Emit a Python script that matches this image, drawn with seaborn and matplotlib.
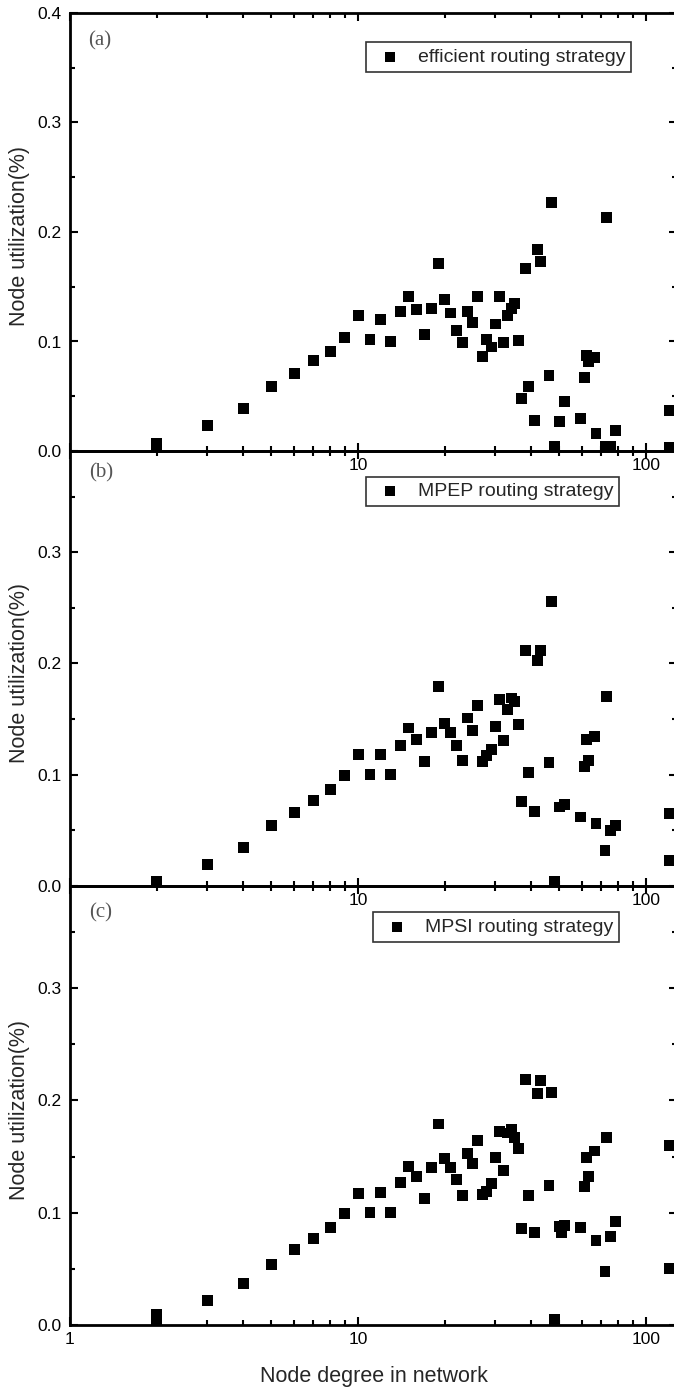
import numpy as np
import pandas as pd
import matplotlib
matplotlib.use("Agg")
import matplotlib.pyplot as plt
from matplotlib.ticker import FixedLocator, FixedFormatter, MultipleLocator
import seaborn as sns

# node degree (shared by the three strategies) and utilization per strategy
degree = [2, 2, 3, 4, 5, 6, 7, 8, 9, 10, 11, 12, 13, 14, 15, 16, 17, 18, 19, 20,
          21, 22, 23, 24, 25, 26, 27, 28, 29, 30, 31, 32, 33, 34, 35, 36, 37, 38, 39,
          41, 42, 43, 46, 47, 48, 50, 52, 59, 61, 62, 63, 66, 67, 72, 73, 75, 78,
          121, 121]

util_efficient = [0.007, 0.001, 0.023, 0.039, 0.059, 0.071, 0.083, 0.091, 0.104, 0.124,
                  0.102, 0.120, 0.100, 0.127, 0.141, 0.129, 0.106, 0.130, 0.171, 0.138,
                  0.126, 0.110, 0.099, 0.127, 0.117, 0.141, 0.086, 0.102, 0.095, 0.116,
                  0.141, 0.099, 0.124, 0.130, 0.135, 0.101, 0.048, 0.167, 0.059,
                  0.028, 0.184, 0.173, 0.069, 0.227, 0.004, 0.027, 0.045, 0.030, 0.067,
                  0.087, 0.082, 0.085, 0.016, 0.004, 0.213, 0.004, 0.019,
                  0.037, 0.003]

util_mpep = [0.004, 0.002, 0.0195, 0.035, 0.054, 0.066, 0.077, 0.087, 0.099, 0.118,
             0.100, 0.118, 0.100, 0.126, 0.142, 0.132, 0.112, 0.138, 0.179, 0.146,
             0.138, 0.126, 0.113, 0.151, 0.140, 0.162, 0.112, 0.117, 0.123, 0.143,
             0.168, 0.131, 0.159, 0.169, 0.166, 0.145, 0.076, 0.212, 0.102,
             0.067, 0.203, 0.212, 0.111, 0.256, 0.004, 0.071, 0.073, 0.062, 0.107,
             0.132, 0.113, 0.134, 0.056, 0.032, 0.170, 0.050, 0.054,
             0.065, 0.023]

util_mpsi = [0.009, 0.004, 0.022, 0.037, 0.054, 0.067, 0.077, 0.087, 0.099, 0.117,
             0.100, 0.118, 0.100, 0.127, 0.141, 0.132, 0.113, 0.140, 0.179, 0.148,
             0.140, 0.130, 0.115, 0.153, 0.144, 0.164, 0.116, 0.119, 0.126, 0.149,
             0.172, 0.138, 0.171, 0.174, 0.167, 0.157, 0.086, 0.219, 0.115,
             0.082, 0.206, 0.218, 0.124, 0.207, 0.005, 0.088, 0.089, 0.087, 0.123,
             0.149, 0.132, 0.155, 0.075, 0.048, 0.167, 0.079, 0.092,
             0.160, 0.050]

# one extra node only visible in the MPSI panel
mpsi_extra_degree = [51]
mpsi_extra_util = [0.082]

panel_tags = ["(a)", "(b)", "(c)"]
legend_labels = ["efficient routing strategy", "MPEP routing strategy", "MPSI routing strategy"]

sns.set_theme(style="ticks")
plt.rcParams["font.family"] = ["Liberation Sans", "DejaVu Sans"]

W, H = 674, 1390
fig = plt.figure(figsize=(W / 100, H / 100), dpi=100)


def px_axes(left, top, right, bottom):
    return fig.add_axes([left / W, 1 - bottom / H, (right - left) / W, (bottom - top) / H])


ax_a = px_axes(70, 13, 677, 451)
ax_b = px_axes(70, 451, 677, 886)
ax_c = px_axes(70, 886, 677, 1325)
axes = [ax_a, ax_b, ax_c]
ylims = [0.4, 0.391, 0.391]

frames = [
    pd.DataFrame({"degree": degree, "util": util_efficient}),
    pd.DataFrame({"degree": degree, "util": util_mpep}),
    pd.DataFrame({"degree": degree + mpsi_extra_degree, "util": util_mpsi + mpsi_extra_util}),
]

# legend box upper-left corners in axes coords
legend_anchor = [(0.4876, 0.933), (0.4876, 0.941), (0.4992, 0.940)]
tag_pos = [(100, 41), (101, 473), (101, 913)]

for i, (ax, df) in enumerate(zip(axes, frames)):
    ax.patch.set_visible(False)
    sns.scatterplot(data=df, x="degree", y="util", ax=ax, marker="s", s=62,
                    color="black", edgecolor="none", linewidth=0,
                    label=legend_labels[i])
    ax.set_xscale("log")
    ax.set_xlim(1, 128)
    ax.set_ylim(0, ylims[i])

    ax.xaxis.set_major_locator(FixedLocator([1, 10, 100]))
    if i < 2:
        ax.xaxis.set_major_formatter(FixedFormatter(["", "10", "100"]))
    else:
        ax.xaxis.set_major_formatter(FixedFormatter(["1", "10", "100"]))
    minors = [m * d for d in (1, 10) for m in range(2, 10)]
    ax.xaxis.set_minor_locator(FixedLocator(minors))
    ax.xaxis.set_minor_formatter(FixedFormatter([""] * len(minors)))

    ax.yaxis.set_major_locator(MultipleLocator(0.1))
    ax.yaxis.set_minor_locator(MultipleLocator(0.05))
    ax.yaxis.set_major_formatter(matplotlib.ticker.FormatStrFormatter("%.1f"))

    ax.tick_params(which="both", direction="in", top=True, right=True, width=1.5,
                   labelsize=12.5, colors="black")
    ax.tick_params(which="major", length=6)
    ax.tick_params(which="minor", length=3.5)
    ax.tick_params(axis="x", pad=5)
    ax.tick_params(axis="y", pad=6)

    for side in ["left", "bottom", "top"]:
        ax.spines[side].set_linewidth(2.0)
        ax.spines[side].set_color("black")
    ax.spines["right"].set_visible(False)

    ax.set_xlabel("")
    ax.set_ylabel("Node utilization(%)", fontsize=15.5)
    ax.yaxis.set_label_coords(-0.066, 0.49)

    leg = ax.legend(loc="upper left", bbox_to_anchor=legend_anchor[i], borderaxespad=0,
                    fontsize=14, frameon=True, fancybox=False, edgecolor="black",
                    borderpad=0.3, handlelength=1.9, handletextpad=0.45,
                    markerscale=0.9)
    leg.get_frame().set_linewidth(1.2)

    fig.text(tag_pos[i][0] / W, 1 - tag_pos[i][1] / H, panel_tags[i],
             family=["Liberation Serif", "DejaVu Serif"], fontsize=15,
             color="#555555", ha="center", va="center")

ax_c.set_xlabel("Node degree in network", fontsize=15.5, labelpad=14)

fig.savefig("out.png", dpi=100)
